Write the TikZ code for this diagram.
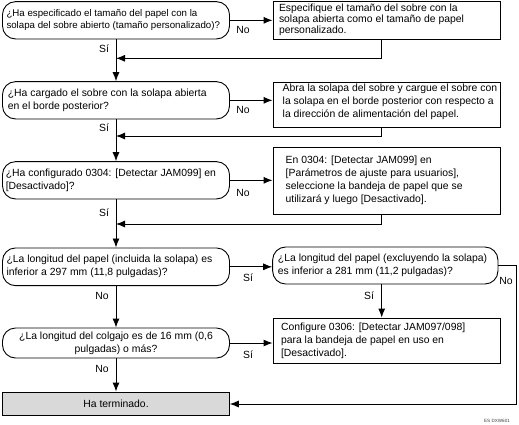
\documentclass[tikz,border=0pt]{standalone}
\usepackage{fontspec}
\setmainfont{Liberation Sans}
\usetikzlibrary{arrows.meta}
\newcommand\bxt[3]{\makebox[#1][l]{\hspace*{#2}\begin{tabular}{@{}l@{}}#3\end{tabular}}}
\newcommand\bxc[2]{\makebox[#1][c]{\begin{tabular}{@{}c@{}}#2\end{tabular}}}
\begin{document}
\begin{tikzpicture}[x=1pt,y=-1pt,
  base/.style={draw=black, line width=0.9pt, inner xsep=0pt, inner ysep=0pt,
    font=\fontsize{10.4}{13}\selectfont},
  dec/.style={base, rounded corners=13pt},
  act/.style={base},
  fin/.style={base, fill=black!15},
  arr/.style={line width=0.9pt, -{Latex[length=9pt,width=7pt]}},
  ln/.style={line width=0.9pt},
  lab/.style={font=\fontsize{10.4}{13}\selectfont, inner sep=0pt},
  tag/.style={font=\fontsize{4.6}{5}\selectfont, inner sep=0pt, text=black!75}]
\useasboundingbox (0,0) rectangle (519,424);
% questions
\node[dec, minimum height=37.3pt, font=\fontsize{9.7}{12.4}\selectfont] (q1) at (116,20.3)
  {\bxt{227pt}{4pt}{¿Ha especificado el tamaño del papel con la\\solapa del sobre abierto (tamaño personalizado)?}};
\node[dec, minimum height=37.3pt] (q2) at (116,100.3)
  {\bxt{227pt}{5.3pt}{¿Ha cargado el sobre con la solapa abierta\\en el borde posterior?}};
\node[dec, minimum height=37.3pt] (q3) at (116,180.3)
  {\bxt{227pt}{3.3pt}{¿Ha configurado 0304: [Detectar JAM099] en\\{}[Desactivado]?}};
\node[dec, minimum height=37.7pt] (q4) at (116,266.8)
  {\bxt{227pt}{4pt}{¿La longitud del papel (incluida la solapa) es\\inferior a 297 mm (11,8 pulgadas)?}};
\node[dec, minimum height=37pt] (q5) at (385.3,265.5)
  {\bxt{225.3pt}{5.3pt}{¿La longitud del papel (excluyendo la solapa)\\es inferior a 281 mm (11,2 pulgadas)?}};
\node[dec, minimum height=30pt] (q6) at (116,343)
  {\bxc{227pt}{¿La longitud del colgajo es de 16 mm (0,6\\pulgadas) o más?}};
% actions
\node[act, minimum height=37.3pt, font=\fontsize{10.4}{10.9}\selectfont] (a1) at (386.5,20.3)
  {\bxt{227pt}{6pt}{Especifique el tamaño del sobre con la\\solapa abierta como el tamaño de papel\\personalizado.}};
\node[act, minimum height=45pt, minimum width=227pt] (a2) at (386.5,105) {};
\node[inner sep=0pt, font=\fontsize{10.4}{13}\selectfont] (a2t) at (386.5,102.3)
  {\bxt{227pt}{9.7pt}{Abra la solapa del sobre y cargue el sobre con\\la solapa en el borde posterior con respecto a\\la dirección de alimentación del papel.}};
\node[act, minimum height=66.7pt] (a3) at (386.5,180.7)
  {\bxt{227pt}{12.7pt}{En 0304: [Detectar JAM099] en\\{}[Parámetros de ajuste para usuarios],\\seleccione la bandeja de papel que se\\utilizará y luego [Desactivado].}};
\node[act, minimum height=45pt] (a5) at (386.5,340.5)
  {\bxt{227pt}{8pt}{Configure 0306: [Detectar JAM097/098]\\para la bandeja de papel en uso en\\{}[Desactivado].}};
\node[fin, minimum width=226.6pt, minimum height=23pt] (end) at (116,403.5)
  {Ha terminado.};
% junctions
\coordinate (cx) at (381.7,0);
\coordinate (j1) at (116,58.3);
\coordinate (j2) at (116,136);
\coordinate (j3) at (116,224);
\coordinate (r1) at (516.7,265.5);
\coordinate (r2) at (516.7,404);
% trunk
\draw[arr] (q1.south) -- (q2.north);
\draw[arr] (q2.south) -- (q3.north);
\draw[arr] (q3.south) -- (q4.north);
\draw[arr] (q4.south) -- (q6.north);
\draw[arr] (q6.south) -- (end.north);
% side branches
\draw[arr] (q1.east) -- (q1.east -| a1.west);
\draw[arr] (q2.east) -- (q2.east -| a2.west);
\draw[arr] (q3.east) -- (q3.east -| a3.west);
\draw[arr] (q4.east) -- (q4.east -| q5.west);
\draw[arr] (q6.east) -- (q6.east -| a5.west);
\draw[arr] (q5.south -| cx) -- (a5.north -| cx);
% returns
\draw[arr] (a1.south -| cx) |- (j1);
\draw[arr] (a2.south -| cx) |- (j2);
\draw[arr] (a3.south -| cx) |- (j3);
\draw[ln] (q5.east) -- (r1);
\draw[arr] (r1) -- (r2) -- (r2 -| end.east);
% labels
\node[lab] (l1) at (243,30) {No};
\node[lab] (l2) at (243,110) {No};
\node[lab] (l3) at (243,193) {No};
\node[lab] (s1) at (104,49) {Sí};
\node[lab] (s2) at (104,128) {Sí};
\node[lab] (s3) at (104,213) {Sí};
\node[lab] (s4) at (248,278) {Sí};
\node[lab] (n5) at (506,281) {No};
\node[lab] (n4) at (102,296) {No};
\node[lab] (s5) at (369,296) {Sí};
\node[lab] (s6) at (248,355) {Sí};
\node[lab] (n6) at (102,369) {No};
\node[tag] (tg) at (497,420.5) {ES DXW601};
\end{tikzpicture}
\end{document}
